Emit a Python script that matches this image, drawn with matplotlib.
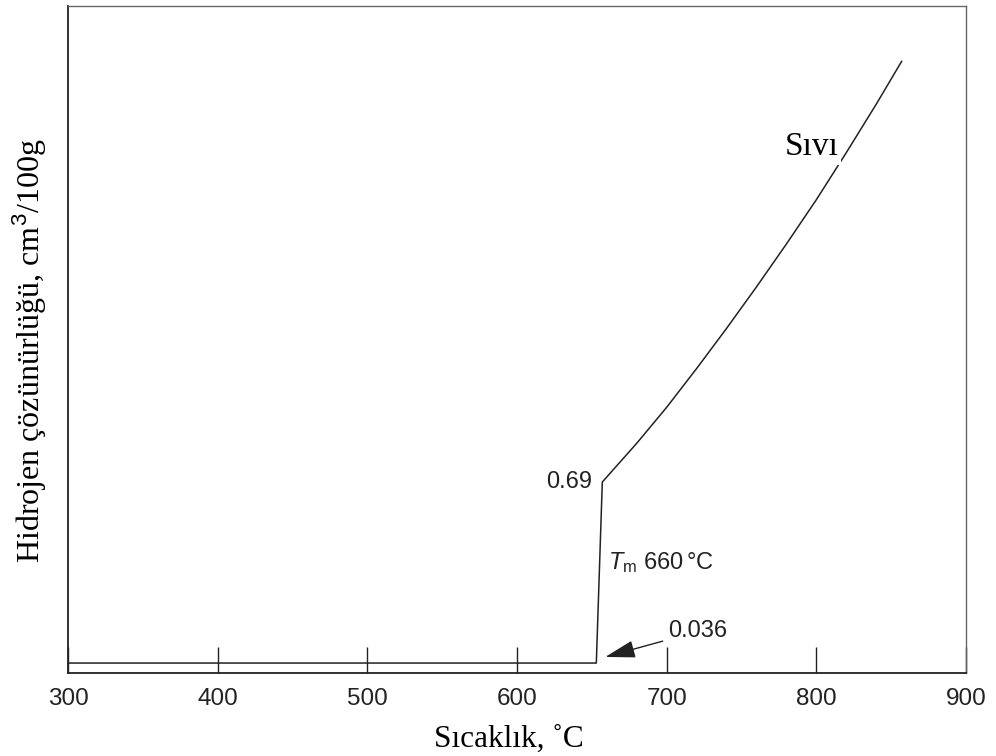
import matplotlib
matplotlib.use("Agg")
import matplotlib.pyplot as plt

# hydrogen solubility in aluminium
temp_c = [300, 500, 653, 657, 680, 700, 720, 740, 760, 780, 800, 820, 840, 857]
solubility = [0.036, 0.036, 0.036, 0.69, 0.83, 0.96, 1.10, 1.245, 1.395, 1.55, 1.71, 1.88, 2.055, 2.21]

x_ticks = [300, 400, 500, 600, 700, 800, 900]
melt_point = (657, 0.69)   # top of the jump
solid_point = (659, 0.058)  # where the 0.036 arrow points

plt.rcParams['mathtext.fontset'] = 'custom'
plt.rcParams['mathtext.rm'] = 'Liberation Sans'
plt.rcParams['mathtext.it'] = 'Liberation Sans:italic'

sans = 'Liberation Sans'
serif = 'Liberation Serif'
ink = '#222222'

fig = plt.figure(figsize=(9.96, 7.56), dpi=100)
ax = fig.add_axes([68/996, 1 - 673/756, 898/996, 667/756])

ax.plot(temp_c, solubility, color=ink, linewidth=1.1)

ax.set_xlim(300, 900)
ax.set_ylim(0, 2.41)
ax.set_xticks(x_ticks)
ax.set_xticklabels([str(t) for t in x_ticks], fontfamily=sans, fontsize=17.5, color=ink)
ax.set_yticks([])
ax.tick_params(axis='x', direction='in', length=19, width=1.0, color=ink, pad=11)

for side in ['left', 'bottom']:
  ax.spines[side].set_color(ink)
  ax.spines[side].set_linewidth(1.3)
for side in ['top', 'right']:
  ax.spines[side].set_color('#666666')
  ax.spines[side].set_linewidth(1.0)

# annotations
ax.text(650, melt_point[1], '0.69', ha='right', va='center',
        fontfamily=sans, fontsize=17, color=ink)
ax.text(661, 0.40, r'$T_{\mathrm{m}}$ 660$\,$°C', ha='left', va='center',
        fontfamily=sans, fontsize=17, color=ink)
ax.annotate('0.036', xy=solid_point, xytext=(701, 0.15),
            ha='left', va='center', fontfamily=sans, fontsize=17, color=ink,
            arrowprops=dict(arrowstyle='-|>,head_length=1.1,head_width=0.32',
                            color=ink, linewidth=1.0, shrinkA=2, shrinkB=0))
ax.text(779, 1.90, 'Sıvı', ha='left', va='center', fontfamily=serif, fontsize=24,
        color='black', bbox=dict(facecolor='white', edgecolor='none', pad=2))

# axis titles
fig.text(509/996, 1 - 747/756, 'Sıcaklık, ˚C', ha='center', va='baseline',
         fontfamily=serif, fontsize=22.5, color='black')
fig.text(30/996, 1 - 351/756, 'Hidrojen çözünürlüğü, cm$^3$/100g', ha='center', va='center',
         rotation=90, fontfamily=serif, fontsize=23, color='black')

fig.savefig('out.png', dpi=100, facecolor='white')
